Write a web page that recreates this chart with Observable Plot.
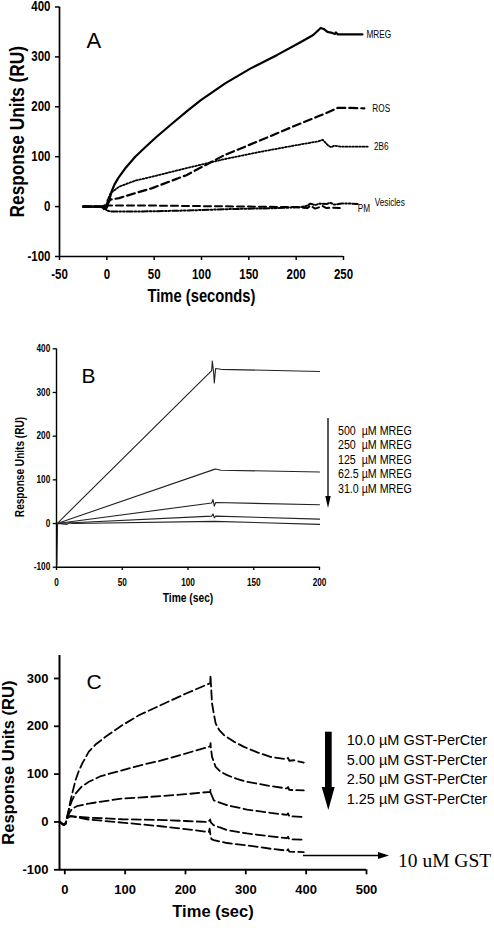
<!DOCTYPE html>
<html>
<head>
<meta charset="utf-8">
<script src="https://cdn.jsdelivr.net/npm/d3@7"></script>
<script src="https://cdn.jsdelivr.net/npm/@observablehq/plot@0.6"></script>
<style>
  html, body { margin: 0; padding: 0; background: #fff; }
  #page { position: relative; width: 494px; height: 928px; overflow: hidden; background: #fff; }
  .panel { position: absolute; left: 0; }
  #overlay { position: absolute; left: 0; top: 0; pointer-events: none; }
</style>
</head>
<body>
<div id="page">
  <div class="panel" id="pa" style="top:0px"></div>
  <div class="panel" id="pb" style="top:340px"></div>
  <div class="panel" id="pc" style="top:640px"></div>
</div>
<script>
// ---------------- DATA ----------------
// Panel A: [time (s), response (RU)]
const aTicksX = [-50, 0, 50, 100, 150, 200, 250];
const aTicksY = [-100, 0, 100, 200, 300, 400];
const aMREG = [[-25,0],[-10,0],[-5,-1],[-3,-5],[0,-2],[2.5,13],[5,30],[8,44],[12,57],[20,78],[30,100],[40,118],[52,139],[70,168],[85,192],[99,213],[125,247],[152,277],[180,304],[205,330],[218,344],[226,358],[229,356],[233,350],[238,348],[241,346],[242,349],[244,345],[250,345],[270,345]];
const aROS = [[-25,0],[-5,0],[0,2],[1,7],[4,14],[13,17],[30,27],[48,37],[84,63],[124,103],[160,131],[200,163],[230,186],[244,198],[248,198],[272,197]];
const a2B6 = [[-25,0],[-5,0],[0,5],[0.7,13],[4,27],[13,40],[30,52],[48,60],[84,77],[124,95],[160,109],[200,123],[224,131],[228,134],[231,128],[234,122],[237,119],[240,122],[248,120],[258,120],[277,120]];
const aVesicles = [[-25,0],[-3,0],[0,-8],[5,-10],[30,-10],[80,-8],[130,-5],[180,-3],[205,-1],[212,2],[215,6],[220,3],[225,6],[232,5],[236,8],[240,4],[248,6],[258,6],[265,5]];
const aPM = [[-25,0],[-3,0],[0,2],[50,2],[100,1],[150,0],[200,-1],[212,-3],[215,2],[220,-4],[228,1],[232,-3],[238,-2],[246,-3]];
const aNames = ["MREG", "ROS", "2B6", "Vesicles", "PM"];

// Panel B
const bTicksX = [0, 50, 100, 150, 200];
const bTicksY = [-100, 0, 100, 200, 300, 400];
const b500 = [[0.5,0],[118,350],[118.5,372],[119.5,345],[120,322],[121,355],[125,353],[200,348]];
const b250 = [[0.5,0],[120,124],[121,125],[125,122],[200,118]];
const b125 = [[0.5,0],[118,47],[119,55],[120,40],[121,48],[200,43]];
const b62 = [[0.5,0],[118,17],[119,22],[120,13],[121,17],[200,10]];
const b31 = [[0.3,-95],[0.8,0],[8,-2],[10,2],[12,0],[120,5],[200,-2]];
const bLegend = ["500  µM MREG", "250  µM MREG", "125  µM MREG", "62.5 µM MREG", "31.0 µM MREG"];

// Panel C
const cTicksX = [0, 100, 200, 300, 400, 500];
const cTicksY = [-100, 0, 100, 200, 300];
const c10 = [[-8,0],[-2,-6],[1,-4],[3,5],[5,15],[6.6,25],[9,42],[12.2,59],[17.7,87],[23,106],[28.8,122],[39.8,147],[52,163],[67.5,178],[95,202],[122.7,223],[158.6,244],[200,268],[241,290],[241.5,307],[242,292],[244,248],[247,226],[250,206],[256,192],[263.5,182],[280,168],[297,157],[320,145],[341,136],[368,131],[370,134],[372,128],[380,129],[396,124]];
const c5 = [[-8,0],[-2,-6],[1,-4],[3,8],[5,18],[8,32],[12,45],[17.7,59],[28,74],[39.8,84],[60,96],[95,108],[130,120],[158.6,128],[200,143],[241,158],[241.5,165],[242,156],[244,136],[250,115],[258,105],[269,98],[285,90],[302,84],[341,75],[368,70],[370,73],[372,67],[396,66]];
const c25 = [[-8,0],[-2,-6],[1,-4],[4,8],[8,20],[12.2,28],[20,33],[39.8,38.5],[95,49],[160,54],[200,58],[241,63],[241.5,68],[242,60],[247,45],[258,40],[269,35],[302,26],[341,19],[368,15],[370,18],[372,12],[396,10.5]];
const c125 = [[-8,0],[-2,-6],[1,-4],[5,10],[10,12],[20,11],[40,9],[95,5.7],[167,4],[200,2],[238,0],[241,5],[242,-1],[247,-7],[258,-12],[269,-17],[302,-24],[341,-30],[368,-34],[370,-31],[372,-36],[396,-37]];
const cGST = [[-8,0],[-2,-6],[1,-4],[5,10],[10,12],[20,10],[40,5],[95,-1.3],[158.6,-9],[200,-15],[238.7,-21],[240,-14],[241,-24],[243,-36],[247,-38],[269,-44],[302,-49],[341,-56],[368,-60],[370,-57],[372,-62],[396,-63]];
const cLegend = ["10.0 µM GST-PerCter", "5.00 µM GST-PerCter", "2.50 µM GST-PerCter", "1.25 µM GST-PerCter"];
const cGSTLabel = "10 uM GST";

// ---------------- STYLES ----------------
const narrow = "Liberation Sans, Arial, sans-serif";          // condensed afterwards
const sans = "'Liberation Sans',Arial,Helvetica,sans-serif";
const serif = "'Liberation Serif','Times New Roman',serif";
const X = d => d[0], Y = d => d[1];
const fmt = d => String(d);

// horizontally condense text set in the "narrow" family (Arial Narrow look)
function condense(root, factor) {
  root.querySelectorAll("text").forEach(t => {
    const holder = t.closest("[font-family]");
    const fam = t.getAttribute("font-family") || (holder && holder.getAttribute("font-family"));
    if (fam !== narrow) return;
    const spans = t.querySelectorAll("tspan");
    const targets = spans.length ? Array.from(spans) : [t];
    targets.forEach(el => {
      const L = el.getComputedTextLength();
      if (L > 0) {
        el.setAttribute("textLength", (L * factor).toFixed(2));
        el.setAttribute("lengthAdjust", "spacingAndGlyphs");
      }
    });
  });
}

// ---------------- PANEL A ----------------
const aSeries = [aMREG, aROS, a2B6, aVesicles, aPM];
const aStyle = [
  {strokeWidth: 2.2, strokeDasharray: null, dx: 4, dy: 0},
  {strokeWidth: 2.2, strokeDasharray: "8,4", dx: 8, dy: 0},
  {strokeWidth: 1.8, strokeDasharray: "1.6,1.8", dx: 5, dy: 0},
  {strokeWidth: 2.0, strokeDasharray: "6,2,1.6,2,1.6,2", dx: 17, dy: -1},
  {strokeWidth: 2.0, strokeDasharray: "7,4", dx: 18, dy: 1}
];
const aMarks = [];
aSeries.forEach((s, i) => {
  aMarks.push(Plot.line(s, {x: X, y: Y, stroke: "black", strokeWidth: aStyle[i].strokeWidth, strokeDasharray: aStyle[i].strokeDasharray}));
  aMarks.push(Plot.text([s[s.length - 1]], {x: X, y: Y, text: () => aNames[i], dx: aStyle[i].dx, dy: aStyle[i].dy, textAnchor: "start", fontSize: 10, fontFamily: narrow, fill: "black"}));
});

const plotA = Plot.plot({
  width: 494, height: 320,
  marginLeft: 59, marginRight: 151, marginTop: 6.5, marginBottom: 64,
  x: {domain: [-50, 250]}, y: {domain: [-100, 400]},
  style: {fontFamily: narrow, background: "white", color: "black", overflow: "visible"},
  marks: [
    Plot.axisX(aTicksX, {tickSize: 4, tickPadding: 9, tickFormat: fmt, fontSize: 14, fontWeight: "bold", fontFamily: narrow, label: null, strokeWidth: 1.5}),
    Plot.axisY(aTicksY, {tickSize: 4, tickPadding: 5, tickFormat: fmt, fontSize: 14, fontWeight: "bold", fontFamily: narrow, label: null, strokeWidth: 1.5}),
    Plot.ruleY([-100], {strokeWidth: 1.7}),
    Plot.ruleX([-50], {strokeWidth: 1.7}),
    ...aMarks,
    Plot.text(["Time (seconds)"], {frameAnchor: "bottom", dy: 45.5, fontSize: 18, fontWeight: "bold", fontFamily: narrow, textAnchor: "middle"}),
    Plot.text(["Response Units (RU)"], {frameAnchor: "left", dx: -42, rotate: -90, fontSize: 21, fontWeight: "bold", fontFamily: narrow, textAnchor: "middle"}),
    Plot.text(["A"], {frameAnchor: "top-left", dx: 27, dy: 25, fontSize: 22, fontFamily: sans, textAnchor: "start"})
  ]
});
document.getElementById("pa").append(plotA);
condense(plotA, 0.82);

// ---------------- PANEL B ----------------
const bSeries = [b500, b250, b125, b62, b31];
const plotB = Plot.plot({
  width: 494, height: 280,
  marginLeft: 56, marginRight: 175, marginTop: 8.3, marginBottom: 53.3,
  x: {domain: [0, 200]}, y: {domain: [-100, 400]},
  style: {fontFamily: narrow, background: "white", color: "black", overflow: "visible"},
  marks: [
    Plot.axisX(bTicksX, {tickSize: 3.3, tickPadding: 8, tickFormat: fmt, fontSize: 10, fontWeight: "bold", fontFamily: narrow, label: null, strokeWidth: 1.3}),
    Plot.axisY(bTicksY, {tickSize: 3.3, tickPadding: 3, tickFormat: fmt, fontSize: 10, fontWeight: "bold", fontFamily: narrow, label: null, strokeWidth: 1.3}),
    Plot.ruleY([-100], {strokeWidth: 1.4}),
    Plot.ruleX([0], {strokeWidth: 1.4}),
    ...bSeries.map(s => Plot.line(s, {x: X, y: Y, stroke: "#222", strokeWidth: 1.1})),
    Plot.text(["Time (sec)"], {frameAnchor: "bottom", dy: 35, fontSize: 12.5, fontWeight: "bold", fontFamily: narrow, textAnchor: "middle"}),
    Plot.text(["Response Units (RU)"], {frameAnchor: "left", dx: -36, dy: 9, rotate: -90, fontSize: 12.3, fontWeight: "bold", fontFamily: narrow, textAnchor: "middle"}),
    Plot.text(["B"], {frameAnchor: "top-left", dx: 25, dy: 19, fontSize: 21, fontFamily: sans, textAnchor: "start"})
  ]
});
document.getElementById("pb").append(plotB);
condense(plotB, 0.82);

// ---------------- PANEL C ----------------
const cSeries = [c10, c5, c25, c125, cGST];
const plotC = Plot.plot({
  width: 494, height: 288,
  marginLeft: 59, marginRight: 128, marginTop: 15, marginBottom: 58.7,
  x: {domain: [-8.8, 500]}, y: {domain: [-100, 348]},
  style: {fontFamily: sans, background: "white", color: "black", overflow: "visible"},
  marks: [
    Plot.axisX(cTicksX, {tickSize: 5, tickPadding: 10, tickFormat: fmt, fontSize: 13, fontWeight: "bold", fontFamily: sans, label: null, strokeWidth: 1.8}),
    Plot.axisY(cTicksY, {tickSize: 5, tickPadding: 6, tickFormat: fmt, fontSize: 13, fontWeight: "bold", fontFamily: sans, label: null, strokeWidth: 1.8}),
    Plot.ruleY([-100], {strokeWidth: 2}),
    Plot.ruleX([-8.8], {strokeWidth: 2}),
    ...cSeries.map(s => Plot.line(s, {x: X, y: Y, stroke: "black", strokeWidth: 1.8, strokeDasharray: "9,4"})),
    Plot.text(["Time (sec)"], {frameAnchor: "bottom", dy: 47.4, fontSize: 16.5, fontWeight: "bold", fontFamily: sans, textAnchor: "middle"}),
    Plot.text(["Response Units (RU)"], {frameAnchor: "left", dx: -51, rotate: -90, fontSize: 16.5, fontWeight: "bold", fontFamily: sans, textAnchor: "middle"}),
    Plot.text(["C"], {frameAnchor: "top-left", dx: 27, dy: 19, fontSize: 21, fontFamily: sans, textAnchor: "start"})
  ]
});
document.getElementById("pc").append(plotC);

// ---------------- OVERLAY (legends / arrows) ----------------
const ov = d3.select("#page").append("svg").attr("id", "overlay")
  .attr("width", 494).attr("height", 928);

// Panel B legend arrow + text
ov.append("line").attr("x1", 328).attr("y1", 418).attr("x2", 328).attr("y2", 500)
  .attr("stroke", "black").attr("stroke-width", 1.3);
ov.append("polygon").attr("points", "325.3,496 330.7,496 328,508").attr("fill", "black");
ov.selectAll("text.bl").data(bLegend).join("text").attr("class", "bl")
  .attr("x", 338).attr("y", (d, i) => 430 + i * 14.6)
  .attr("dominant-baseline", "central")
  .style("white-space", "pre")
  .attr("font-family", narrow).attr("font-size", 13).attr("fill", "black")
  .text(d => d);

// Panel C legend thick arrow + text
ov.append("rect").attr("x", 325).attr("y", 731.7).attr("width", 6.7).attr("height", 58)
  .attr("fill", "black");
ov.append("polygon").attr("points", "321.7,787 334.7,787 328.3,810").attr("fill", "black");
ov.selectAll("text.cl").data(cLegend).join("text").attr("class", "cl")
  .attr("x", 346.7).attr("y", (d, i) => 740 + i * 19.5)
  .attr("dominant-baseline", "central")
  .attr("font-family", sans).attr("font-size", 14.5).attr("fill", "black")
  .text(d => d);

// GST arrow + label
ov.append("line").attr("x1", 303).attr("y1", 855.5).attr("x2", 380).attr("y2", 855.5)
  .attr("stroke", "black").attr("stroke-width", 1.3);
ov.append("polygon").attr("points", "378,852 378,859 389,855.5").attr("fill", "black");
ov.append("text").attr("x", 398).attr("y", 860).attr("dominant-baseline", "central")
  .attr("font-family", serif).attr("font-size", 19.5).attr("fill", "black")
  .text(cGSTLabel);

condense(ov.node(), 0.82);
</script>
</body>
</html>
